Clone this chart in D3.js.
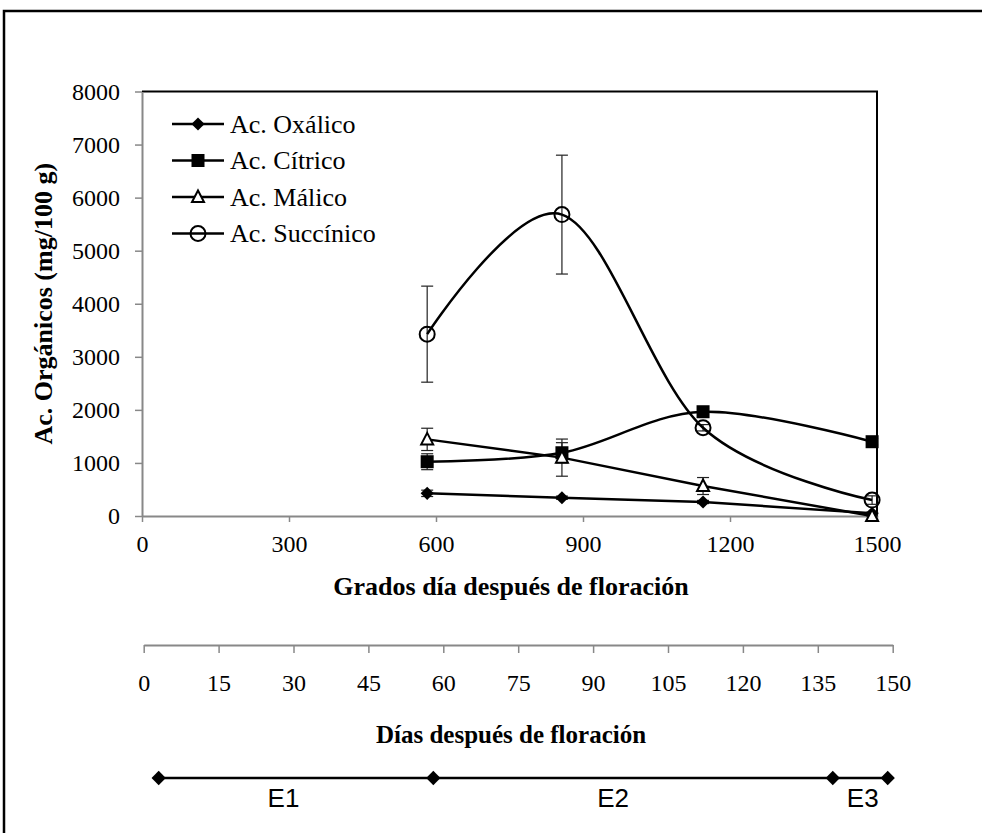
<!DOCTYPE html>
<html>
<head>
<meta charset="utf-8">
<script src="https://cdn.jsdelivr.net/npm/d3@7"></script>
<style>
  html, body { margin: 0; padding: 0; background: #fff; }
  svg { display: block; }
</style>
</head>
<body>
<svg id="chart" width="982" height="833"></svg>
<script>
// Growing degree days after flowering for each sampling date
const grados = [582, 857, 1145, 1490];

// Organic acid content (mg/100 g) and standard error per sampling date
const oxalico      = [427, 345, 264, 50];
const oxalicoErr   = [60, 30, 30, 20];
const citrico      = [1023, 1192, 1965, 1400];
const citricoErr   = [150, 190, 60, 60];
const malico       = [1444, 1100, 565, 0];
const malicoErr    = [210, 350, 160, 60];
const succinico    = [3427, 5680, 1663, 300];
const succinicoErr = [905, 1120, 60, 80];

const seriesNames = ["Ac. Oxálico", "Ac. Cítrico", "Ac. Málico", "Ac. Succínico"];

// Axis ticks
const gradosTicks = [0, 300, 600, 900, 1200, 1500];
const acidTicks = [0, 1000, 2000, 3000, 4000, 5000, 6000, 7000, 8000];
const diasTicks = [0, 15, 30, 45, 60, 75, 90, 105, 120, 135, 150];

// Phenological stages along the days axis
const stageBounds = [3, 58, 138, 149];
const stageNames = ["E1", "E2", "E3"];
const stageLabelDays = [28, 94, 144];

const SERIF = '"Liberation Serif", "Times New Roman", serif';
const SANS = '"Liberation Sans", Arial, sans-serif';

const series = [
  { name: seriesNames[0], values: oxalico,   err: oxalicoErr,   marker: "diamond",  smooth: false },
  { name: seriesNames[1], values: citrico,   err: citricoErr,   marker: "square",   smooth: true },
  { name: seriesNames[2], values: malico,    err: malicoErr,    marker: "triangle", smooth: false },
  { name: seriesNames[3], values: succinico, err: succinicoErr, marker: "circle",   smooth: true }
];

const svg = d3.select("#chart");

// Outer frame
svg.append("path")
  .attr("d", "M4,833 V11 H982")
  .attr("fill", "none").attr("stroke", "#000").attr("stroke-width", 2.5);

const x = d3.scaleLinear().domain([0, 1500]).range([142, 877]);
const y = d3.scaleLinear().domain([0, 8000]).range([516, 91.5]);
const xd = d3.scaleLinear().domain([0, 150]).range([143.7, 892.7]);

// Plot area outline (top and right)
svg.append("path")
  .attr("d", `M${x(0)},${y(8000)} H${x(1500)} V${y(0)}`)
  .attr("fill", "none").attr("stroke", "#000").attr("stroke-width", 2);

function styleTicks(g) {
  g.selectAll(".tick text")
    .style("font-family", SERIF).style("font-size", "24px").style("fill", "#000");
}

// Y axis
const yAxis = svg.append("g")
  .attr("transform", `translate(${x(0)},0)`)
  .call(d3.axisLeft(y).tickValues(acidTicks).tickFormat(d3.format("d"))
    .tickSize(7).tickPadding(15).tickSizeOuter(0));
yAxis.select(".domain").attr("stroke", "#888").attr("stroke-width", 2);
yAxis.selectAll(".tick line").attr("stroke", "#888").attr("stroke-width", 1.5);
styleTicks(yAxis);

// X axis (degree days)
const xAxis = svg.append("g")
  .attr("transform", `translate(0,${y(0)})`)
  .call(d3.axisBottom(x).tickValues(gradosTicks).tickFormat(d3.format("d"))
    .tickSize(6).tickPadding(13).tickSizeOuter(0));
xAxis.select(".domain").attr("stroke", "#888").attr("stroke-width", 2);
xAxis.selectAll(".tick line").attr("stroke", "#888").attr("stroke-width", 1.5);
styleTicks(xAxis);

// Days axis
const dAxis = svg.append("g")
  .attr("transform", "translate(0,645)")
  .call(d3.axisBottom(xd).tickValues(diasTicks).tickFormat(d3.format("d"))
    .tickSize(0).tickPadding(29).tickSizeOuter(0));
dAxis.select(".domain").attr("stroke", "#888").attr("stroke-width", 2);
dAxis.selectAll(".tick line").remove();
dAxis.selectAll(".tick").append("line")
  .attr("y1", 0).attr("y2", 8).attr("stroke", "#888").attr("stroke-width", 1.5);
styleTicks(dAxis);

// Axis titles
function title(sel) {
  return sel.attr("text-anchor", "middle")
    .style("font-family", SERIF).style("font-weight", "bold").style("font-size", "26px")
    .style("fill", "#000");
}
title(svg.append("text")
  .attr("transform", `translate(52,${(y(0) + y(8000)) / 2}) rotate(-90)`))
  .text("Ac. Orgánicos (mg/100 g)");
title(svg.append("text").attr("x", 511).attr("y", 595))
  .text("Grados día después de floración");
title(svg.append("text").attr("x", 511).attr("y", 743))
  .style("font-size", "25px")
  .text("Días después de floración");

// Stage bar
const stageY = 778;
svg.append("line")
  .attr("x1", xd(stageBounds[0])).attr("x2", xd(stageBounds[stageBounds.length - 1]))
  .attr("y1", stageY).attr("y2", stageY)
  .attr("stroke", "#000").attr("stroke-width", 2.5);
svg.selectAll(".stage-pt").data(stageBounds).join("path")
  .attr("class", "stage-pt")
  .attr("transform", d => `translate(${xd(d)},${stageY})`)
  .attr("d", d3.symbol(d3.symbolDiamond2, 130)())
  .attr("fill", "#000");
svg.selectAll(".stage-lbl").data(stageNames).join("text")
  .attr("class", "stage-lbl")
  .attr("x", (d, i) => xd(stageLabelDays[i])).attr("y", 807)
  .attr("text-anchor", "middle")
  .style("font-family", SANS).style("font-size", "26px").style("fill", "#000")
  .text(d => d);

// Markers
function drawMarker(g, type) {
  if (type === "diamond") {
    g.append("path").attr("d", d3.symbol(d3.symbolDiamond2, 110)()).attr("fill", "#000");
  } else if (type === "square") {
    g.append("rect").attr("x", -6.5).attr("y", -6.5).attr("width", 13).attr("height", 13).attr("fill", "#000");
  } else if (type === "triangle") {
    g.append("path").attr("d", "M0,-6.5 L6,5 L-6,5 Z")
      .attr("fill", "#fff").attr("stroke", "#000").attr("stroke-width", 2);
  } else if (type === "circle") {
    g.append("circle").attr("r", 7.5)
      .attr("fill", "none").attr("stroke", "#000").attr("stroke-width", 2);
  }
}

const plot = svg.append("g");

// Error bars
series.forEach(s => {
  const eb = plot.append("g");
  s.values.forEach((v, i) => {
    const cx = x(grados[i]);
    const top = y(v + s.err[i]);
    const bot = y(Math.max(0, v - s.err[i]));
    eb.append("line").attr("x1", cx).attr("x2", cx).attr("y1", top).attr("y2", bot)
      .attr("stroke", "#222").attr("stroke-width", 1.2);
    [top, bot].forEach(yy => eb.append("line")
      .attr("x1", cx - 6).attr("x2", cx + 6).attr("y1", yy).attr("y2", yy)
      .attr("stroke", "#222").attr("stroke-width", 1.2));
  });
});

// Lines
series.forEach(s => {
  const line = d3.line()
    .x((d, i) => x(grados[i]))
    .y(d => y(d))
    .curve(s.smooth ? d3.curveCardinal.tension(0) : d3.curveLinear);
  plot.append("path").datum(s.values)
    .attr("d", line)
    .attr("fill", "none").attr("stroke", "#000").attr("stroke-width", 2.5);
});

// Points
series.forEach(s => {
  s.values.forEach((v, i) => {
    const g = plot.append("g").attr("transform", `translate(${x(grados[i])},${y(v)})`);
    drawMarker(g, s.marker);
  });
});

// Legend
const legend = svg.append("g").attr("transform", "translate(172,124)");
series.forEach((s, i) => {
  const row = legend.append("g").attr("transform", `translate(0,${i * 36.5})`);
  row.append("line").attr("x1", 0).attr("x2", 52).attr("y1", 0).attr("y2", 0)
    .attr("stroke", "#000").attr("stroke-width", 2.5);
  const m = row.append("g").attr("transform", "translate(26,0)");
  drawMarker(m, s.marker);
  row.append("text").attr("x", 58).attr("y", 0).attr("dy", "0.34em")
    .style("font-family", SERIF).style("font-size", "26px").style("fill", "#000")
    .text(s.name);
});
</script>
</body>
</html>
